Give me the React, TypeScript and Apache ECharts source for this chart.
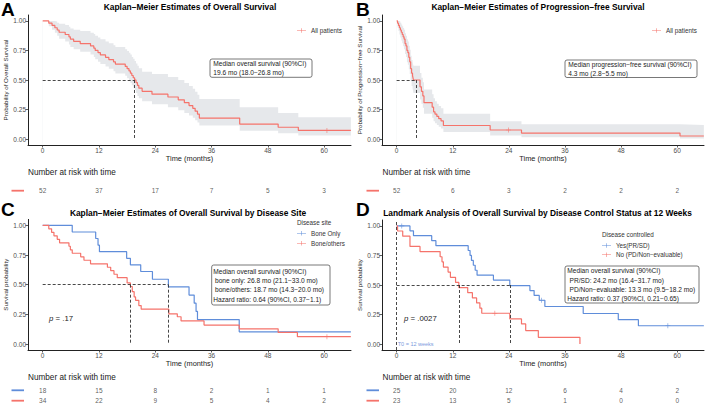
import React, { useEffect, useRef } from "react";
import * as echarts from "echarts";

const FONT = '"Liberation Sans", Arial, Helvetica, sans-serif';
const RED = "#F5736B";
const BLUE = "#5F8DDA";
const BAND = "#E6E8EB";
const INK = "#222222";
const GREY = "#4D4D4D";

// ---- axes ----
const xTicks = [0, 12, 24, 36, 48, 60];
const yTicks = [0, 0.25, 0.5, 0.75, 1];
const X_MIN = -3.13;
const X_MAX = 65.73;

// ---- Panel A: overall survival, all patients ----
const aTime = [0, 1.3, 2.0, 2.6, 3.1, 3.5, 4.8, 5.6, 5.9, 6.6, 8.0, 10.2, 10.9, 11.2, 11.8, 12.3, 13.4, 14.1, 15.1, 15.5, 17.6, 18.0, 18.4, 18.7, 19.0, 19.3, 19.6, 19.9, 20.2, 20.5, 21.2, 23.3, 26.7, 28.9, 30.2, 31.2, 32.0, 32.5, 33.0, 33.4, 42.0, 50.2, 54.5, 65.7];
const aSurv = [1.0, 0.981, 0.962, 0.942, 0.923, 0.904, 0.885, 0.865, 0.846, 0.827, 0.808, 0.788, 0.769, 0.75, 0.731, 0.712, 0.692, 0.673, 0.654, 0.635, 0.615, 0.596, 0.577, 0.558, 0.538, 0.519, 0.5, 0.477, 0.454, 0.431, 0.404, 0.38, 0.356, 0.332, 0.308, 0.284, 0.26, 0.236, 0.212, 0.178, 0.127, 0.1, 0.073, 0.073];
const aUpper = [1.0, 1.0, 1.0, 0.995, 0.985, 0.975, 0.965, 0.95, 0.935, 0.925, 0.915, 0.9, 0.89, 0.875, 0.86, 0.845, 0.825, 0.81, 0.795, 0.78, 0.76, 0.745, 0.73, 0.715, 0.695, 0.68, 0.66, 0.64, 0.62, 0.6, 0.57, 0.55, 0.525, 0.5, 0.475, 0.45, 0.425, 0.4, 0.375, 0.34, 0.27, 0.22, 0.185, 0.185];
const aLower = [1.0, 0.955, 0.925, 0.9, 0.875, 0.85, 0.825, 0.8, 0.78, 0.76, 0.74, 0.715, 0.695, 0.675, 0.655, 0.635, 0.615, 0.595, 0.575, 0.555, 0.535, 0.515, 0.495, 0.475, 0.455, 0.435, 0.415, 0.39, 0.365, 0.345, 0.32, 0.295, 0.27, 0.245, 0.22, 0.2, 0.18, 0.16, 0.14, 0.115, 0.07, 0.05, 0.03, 0.03];
const aCensor = [[60.6, 0.073]];
const aMedian = [19.6];

// ---- Panel B: progression-free survival ----
const bTime = [0, 0.2, 0.4, 0.6, 0.8, 1.0, 1.2, 1.4, 1.6, 1.8, 2.0, 2.2, 2.4, 2.6, 2.8, 3.0, 3.2, 3.4, 3.5, 3.6, 5.0, 5.3, 5.6, 5.85, 7.6, 7.9, 8.2, 8.6, 9.0, 9.5, 10.0, 20.0, 26.7, 60.6, 65.7];
const bSurv = [1.0, 0.981, 0.962, 0.942, 0.923, 0.904, 0.885, 0.865, 0.846, 0.808, 0.788, 0.75, 0.731, 0.692, 0.654, 0.596, 0.558, 0.538, 0.519, 0.5, 0.442, 0.404, 0.365, 0.308, 0.27, 0.231, 0.212, 0.192, 0.173, 0.154, 0.115, 0.077, 0.051, 0.026, 0.026];
const bUpper = [1.0, 1.0, 1.0, 0.995, 0.985, 0.97, 0.955, 0.94, 0.925, 0.895, 0.875, 0.845, 0.825, 0.79, 0.755, 0.705, 0.67, 0.655, 0.635, 0.62, 0.56, 0.52, 0.48, 0.42, 0.38, 0.345, 0.32, 0.3, 0.28, 0.26, 0.215, 0.15, 0.125, 0.12, 0.12];
const bLower = [1.0, 0.945, 0.915, 0.885, 0.86, 0.835, 0.81, 0.785, 0.76, 0.72, 0.695, 0.65, 0.63, 0.59, 0.55, 0.49, 0.45, 0.43, 0.41, 0.39, 0.335, 0.3, 0.265, 0.215, 0.18, 0.15, 0.135, 0.12, 0.105, 0.09, 0.06, 0.03, 0.015, 0.005, 0.005];
const bCensor = [[23.9, 0.077]];
const bMedian = [4.3];

// ---- Panel C: by disease site ----
const cBoneOnlyTime = [0, 6.3, 11.3, 11.8, 12.1, 17.9, 18.7, 20.9, 23.4, 26.8, 31.2, 32.3, 32.7, 33.0, 41.9, 65.7];
const cBoneOnlySurv = [1.0, 0.944, 0.889, 0.833, 0.778, 0.722, 0.667, 0.611, 0.546, 0.482, 0.413, 0.344, 0.275, 0.206, 0.103, 0.103];
const cBoneOthersTime = [0, 1.3, 1.9, 2.4, 3.1, 3.6, 5.6, 5.9, 6.3, 8.1, 8.8, 10.2, 13.8, 14.5, 15.2, 15.9, 18.0, 18.7, 19.1, 19.5, 19.8, 20.5, 21.0, 26.9, 28.7, 29.5, 34.4, 41.9, 50.2, 54.3, 65.7];
const cBoneOthersSurv = [1.0, 0.971, 0.941, 0.912, 0.882, 0.853, 0.824, 0.794, 0.765, 0.735, 0.706, 0.676, 0.647, 0.618, 0.588, 0.559, 0.515, 0.485, 0.441, 0.397, 0.368, 0.324, 0.294, 0.255, 0.23, 0.195, 0.16, 0.128, 0.098, 0.062, 0.062];
const cBoneOthersCensor = [[60.6, 0.062]];
const cMedians = [26.8, 18.7];

// ---- Panel D: landmark by disease control ----
const dYesTime = [0, 2.85, 3.6, 7.5, 8.4, 15.3, 15.7, 16.0, 16.4, 16.8, 17.2, 20.7, 24.2, 28.5, 29.4, 30.5, 31.7, 39.9, 47.4, 51.7, 65.7];
const dYesSurv = [1.0, 0.958, 0.917, 0.875, 0.833, 0.792, 0.75, 0.708, 0.667, 0.625, 0.583, 0.542, 0.494, 0.453, 0.412, 0.371, 0.318, 0.259, 0.207, 0.155, 0.155];
const dYesCensor = [[1.1, 1.0], [31.0, 0.371], [58.0, 0.155]];
const dNoTime = [0, 0.2, 1.3, 2.85, 5.0, 9.3, 9.7, 10.0, 11.0, 11.5, 12.6, 13.3, 15.2, 16.2, 17.1, 17.8, 18.2, 24.2, 26.7, 27.6, 30.3, 39.2];
const dNoSurv = [1.0, 0.957, 0.913, 0.826, 0.783, 0.739, 0.696, 0.652, 0.609, 0.565, 0.522, 0.478, 0.435, 0.391, 0.348, 0.304, 0.261, 0.213, 0.171, 0.114, 0.057, 0.0];
const dNoCensor = [[21.0, 0.261]];
const dMedians = [24.2, 13.3];
const dLandmark = 0;

// ---- number at risk ----
const riskTimes = [0, 12, 24, 36, 48, 60];
const riskA = [52, 37, 17, 7, 5, 3];
const riskB = [52, 6, 3, 2, 2, 2];
const riskCBoneOnly = [18, 15, 8, 2, 1, 1];
const riskCBoneOthers = [34, 22, 9, 5, 4, 2];
const riskDYes = [25, 20, 12, 6, 4, 2];
const riskDNo = [23, 13, 5, 1, 0, 0];

const PLUS = "path://M-5,-0.7 L5,-0.7 L5,0.7 L-5,0.7 Z M-0.7,-5 L0.7,-5 L0.7,5 L-0.7,5 Z";
const LEG_ICON = "path://M0,4.4 L20,4.4 L20,5.6 L0,5.6 Z M9.4,0 L10.6,0 L10.6,10 L9.4,10 Z";

const mainGrids = [
  { left: 28, top: 15, width: 323, height: 130 },
  { left: 382, top: 15, width: 322, height: 130 },
  { left: 28, top: 219.4, width: 323, height: 130.6 },
  { left: 382, top: 220, width: 322, height: 130 },
];
const riskGrids = [
  { left: 28, top: 185.5, width: 323, height: 10.4 },
  { left: 382, top: 185.5, width: 322, height: 10.4 },
  { left: 28, top: 385, width: 323, height: 21 },
  { left: 382, top: 385, width: 322, height: 21 },
];
const yNames = [
  "Probability of Overall Survival",
  "Probability of Progression\u2212free Survival",
  "Survival probability",
  "Survival probability",
];
const xNameGaps = [8.5, 8.5, 10, 10];

const pts = (t: number[], s: number[]) => t.map((x, i) => [x, s[i]]);

function medianLines(meds: number[], extra: any[] = []) {
  const maxMed = Math.max(...meds);
  return {
    silent: true,
    symbol: ["none", "none"],
    label: { show: false },
    animation: false,
    lineStyle: { color: "#333", width: 0.9, type: [3, 2] },
    emphasis: { disabled: true },
    data: [
      [{ coord: [0, 0.5] }, { coord: [maxMed, 0.5] }],
      ...meds.map((m) => [{ coord: [m, 0.5] }, { coord: [m, 0] }]),
      ...extra,
    ],
  };
}

function curve(name: string, idx: number, t: number[], s: number[], color: string, z: number, markLine?: any) {
  const o: any = {
    type: "line",
    name,
    xAxisIndex: idx,
    yAxisIndex: idx,
    data: pts(t, s),
    step: "end",
    symbol: "none",
    showSymbol: false,
    silent: true,
    z,
    lineStyle: { color, width: 1.2 },
    itemStyle: { color },
  };
  if (markLine) o.markLine = markLine;
  return o;
}

// confidence band: grey area under the upper limit, then white area under the lower limit
function bandSeries(key: string, idx: number, t: number[], lo: number[], hi: number[]) {
  const base = {
    type: "line",
    xAxisIndex: idx,
    yAxisIndex: idx,
    step: "end",
    symbol: "none",
    showSymbol: false,
    silent: true,
    lineStyle: { opacity: 0, width: 0 },
  };
  return [
    { ...base, name: key + "-hi", z: 1, areaStyle: { color: BAND, opacity: 1, origin: "start" }, data: pts(t, hi) },
    { ...base, name: key + "-lo", z: 1, areaStyle: { color: "#ffffff", opacity: 1, origin: "start" }, data: pts(t, lo) },
  ];
}

function censor(name: string, idx: number, data: number[][], color: string) {
  return {
    type: "scatter",
    name,
    xAxisIndex: idx,
    yAxisIndex: idx,
    data,
    symbol: PLUS,
    symbolSize: 5,
    silent: true,
    z: 4,
    itemStyle: { color },
  };
}

function riskSeries(idx: number, rows: number[][]) {
  return {
    type: "scatter",
    name: "risk" + idx,
    xAxisIndex: idx,
    yAxisIndex: idx,
    symbolSize: 1,
    silent: true,
    itemStyle: { color: "rgba(0,0,0,0)" },
    data: rows.flatMap((row, r) => riskTimes.map((t, i) => [t, r, row[i]])),
    label: {
      show: true,
      position: "inside",
      formatter: (p: any) => String(p.value[2]),
      fontSize: 6.5,
      color: "#333",
      fontFamily: FONT,
    },
  };
}

function txt(x: number, y: number, text: string, o: any = {}) {
  return {
    type: "text",
    x,
    y,
    silent: true,
    z: 10,
    style: {
      text,
      fontSize: o.size ?? 6.6,
      fontFamily: FONT,
      fontWeight: o.weight ?? "normal",
      fill: o.color ?? INK,
      align: o.align ?? "left",
      verticalAlign: o.valign ?? "middle",
      rich: o.rich,
    },
  };
}

function box(x: number, y: number, w: number, h: number) {
  return {
    type: "rect",
    silent: true,
    z: 9,
    shape: { x, y, width: w, height: h, r: 2 },
    style: { fill: "#ffffff", stroke: "#555", lineWidth: 0.8 },
  };
}

function hline(x1: number, x2: number, y: number, color: string) {
  return {
    type: "line",
    silent: true,
    z: 10,
    shape: { x1, y1: y, x2, y2: y },
    style: { stroke: color, lineWidth: 1.8 },
  };
}

function buildOption(): any {
  const xAxis: any[] = [];
  const yAxis: any[] = [];
  mainGrids.forEach((_, i) => {
    xAxis.push({
      type: "value",
      gridIndex: i,
      min: X_MIN,
      max: X_MAX,
      z: 5,
      axisLine: { show: true, onZero: false, lineStyle: { color: INK, width: 1 } },
      axisTick: { show: true, length: 2.5, customValues: xTicks, lineStyle: { color: "#333", width: 0.8 } },
      axisLabel: { customValues: xTicks, fontSize: 6.5, color: GREY, margin: 2, fontFamily: FONT },
      splitLine: { show: false },
      name: "Time (months)",
      nameLocation: "middle",
      nameGap: xNameGaps[i],
      nameTextStyle: { fontSize: 7.4, color: INK, fontFamily: FONT },
    });
    yAxis.push({
      type: "value",
      gridIndex: i,
      min: -0.05,
      max: 1.05,
      z: 5,
      axisLine: { show: true, onZero: false, lineStyle: { color: INK, width: 1 } },
      axisTick: { show: true, length: 2.5, customValues: yTicks, lineStyle: { color: "#333", width: 0.8 } },
      axisLabel: {
        customValues: yTicks,
        fontSize: 6.5,
        color: GREY,
        margin: 2,
        fontFamily: FONT,
        formatter: (v: number) => v.toFixed(2),
      },
      splitLine: { show: false },
      name: yNames[i],
      nameLocation: "middle",
      nameRotate: 90,
      nameGap: 19.5,
      nameTextStyle: { fontSize: 6.2, color: INK, fontFamily: FONT },
    });
  });
  riskGrids.forEach((_, i) => {
    xAxis.push({ type: "value", gridIndex: 4 + i, min: X_MIN, max: X_MAX, show: false });
    yAxis.push({
      type: "value",
      gridIndex: 4 + i,
      min: -0.5,
      max: i < 2 ? 0.5 : 1.5,
      inverse: true,
      show: false,
    });
  });

  const series: any[] = [
    ...bandSeries("bandA", 0, aTime, aLower, aUpper),
    curve("All patients", 0, aTime, aSurv, RED, 3, medianLines(aMedian)),
    censor("A-censor", 0, aCensor, RED),
    ...bandSeries("bandB", 1, bTime, bLower, bUpper),
    curve("All patients", 1, bTime, bSurv, RED, 3, medianLines(bMedian)),
    censor("B-censor", 1, bCensor, RED),
    curve("Bone Only", 2, cBoneOnlyTime, cBoneOnlySurv, BLUE, 3, medianLines(cMedians)),
    curve("Bone/others", 2, cBoneOthersTime, cBoneOthersSurv, RED, 3),
    censor("C-censor", 2, cBoneOthersCensor, RED),
    curve("Yes(PR/SD)", 3, dYesTime, dYesSurv, BLUE, 3, medianLines(dMedians, [{ xAxis: dLandmark }])),
    curve("No (PD/Non\u2212evaluable)", 3, dNoTime, dNoSurv, RED, 3),
    censor("D-censor-yes", 3, dYesCensor, BLUE),
    censor("D-censor-no", 3, dNoCensor, RED),
    riskSeries(4, [riskA]),
    riskSeries(5, [riskB]),
    riskSeries(6, [riskCBoneOnly, riskCBoneOthers]),
    riskSeries(7, [riskDYes, riskDNo]),
  ];

  const legendBase = {
    orient: "vertical",
    icon: LEG_ICON,
    itemWidth: 9,
    itemHeight: 5,
    padding: 0,
    selectedMode: false,
    textStyle: { fontSize: 6.3, color: "#333", fontFamily: FONT },
  };
  const legend = [
    { ...legendBase, left: 297, top: 27.5, data: ["All patients"] },
    { ...legendBase, left: 652, top: 27.5, data: ["All patients"] },
    { ...legendBase, left: 297, top: 230.2, itemGap: 4, data: ["Bone Only", "Bone/others"] },
    { ...legendBase, left: 602, top: 242.5, itemGap: 3.3, data: ["Yes(PR/SD)", "No (PD/Non\u2212evaluable)"] },
  ];

  const rich = { i: { fontStyle: "italic", fontSize: 7.8, fontFamily: FONT, fill: INK, color: INK } };
  const graphic: any[] = [
    txt(1, 9, "A", { size: 19, weight: "bold", color: "#000" }),
    txt(356, 9, "B", { size: 19, weight: "bold", color: "#000" }),
    txt(1, 209, "C", { size: 19, weight: "bold", color: "#000" }),
    txt(356, 209, "D", { size: 19, weight: "bold", color: "#000" }),
    txt(190, 7, "Kaplan\u2212Meier Estimates of Overall Survival", { size: 8.4, weight: "bold", align: "center", color: "#000" }),
    txt(538, 7, "Kaplan\u2212Meier Estimates of Progression\u2212free Survival", { size: 8.4, weight: "bold", align: "center", color: "#000" }),
    txt(188, 212.7, "Kaplan\u2212Meier Estimates of Overall Survival by Disease Site", { size: 8.4, weight: "bold", align: "center", color: "#000" }),
    txt(537.5, 212.7, "Landmark Analysis of Overall Survival by Disease Control Status at 12 Weeks", { size: 8.4, weight: "bold", align: "center", color: "#000" }),

    box(210, 59, 102, 18.3),
    txt(213.3, 63.5, "Median overall survival (90%CI)"),
    txt(213.3, 72.8, "19.6 mo (18.0\u221226.8 mo)"),

    box(565, 60, 132, 17.5),
    txt(568.3, 64, "Median progression\u2212free survival (90%CI)"),
    txt(568.3, 73, "4.3 mo (2.8\u22125.5 mo)"),

    box(211.7, 265, 118.3, 40),
    txt(213.3, 271, "Median overall survival (90%CI)"),
    txt(215, 280.3, "bone only: 26.8 mo (21.1\u221233.0 mo)"),
    txt(215, 289.7, "bone/others: 18.7 mo (14.3\u221220.0 mo)"),
    txt(213.3, 299, "Hazard ratio: 0.64 (90%CI, 0.37\u22121.1)"),

    box(565, 266, 134, 37),
    txt(567.3, 270.7, "Median overall survival (90%CI)"),
    txt(569.5, 280, "PR/SD: 24.2 mo (16.4\u221231.7 mo)"),
    txt(569.5, 289.3, "PD/Non\u2212evaluable: 13.3 mo (9.5\u221218.2 mo)"),
    txt(567.3, 298.3, "Hazard ratio: 0.37 (90%CI, 0.21\u22120.65)"),

    txt(49, 318.5, "{i|p} = .17", { size: 7.8, rich }),
    txt(404, 318.5, "{i|p} = .0027", { size: 7.8, rich }),
    txt(397.7, 344.3, "T0 = 12 weeks", { size: 5.5, color: "#7C9BDD" }),

    txt(297, 222.3, "Disease site", { size: 6.3, color: "#333" }),
    txt(602, 234.5, "Disease controlled", { size: 6.3, color: "#333" }),

    txt(28, 172, "Number at risk with time", { size: 8.2 }),
    txt(382.5, 172, "Number at risk with time", { size: 8.2 }),
    txt(28, 377, "Number at risk with time", { size: 8.2 }),
    txt(382.5, 377, "Number at risk with time", { size: 8.2 }),

    hline(11.5, 24, 190.7, RED),
    hline(366.5, 379, 190.7, RED),
    hline(11.5, 24, 390.3, BLUE),
    hline(11.5, 24, 400.7, RED),
    hline(366.5, 379, 390.3, BLUE),
    hline(366.5, 379, 400.7, RED),
  ];

  return {
    animation: false,
    backgroundColor: "#ffffff",
    textStyle: { fontFamily: FONT },
    grid: [...mainGrids, ...riskGrids].map((g) => ({ ...g, containLabel: false })),
    xAxis,
    yAxis,
    legend,
    series,
    graphic,
  };
}

export default function App() {
  const ref = useRef<HTMLDivElement>(null);
  useEffect(() => {
    if (!ref.current) return;
    const chart = echarts.init(ref.current, null, { renderer: "svg", width: 709, height: 413 });
    chart.setOption(buildOption());
    return () => chart.dispose();
  }, []);
  return (
    <div
      ref={ref}
      style={{ position: "fixed", left: 0, top: 0, width: 709, height: 413, background: "#fff" }}
    />
  );
}
